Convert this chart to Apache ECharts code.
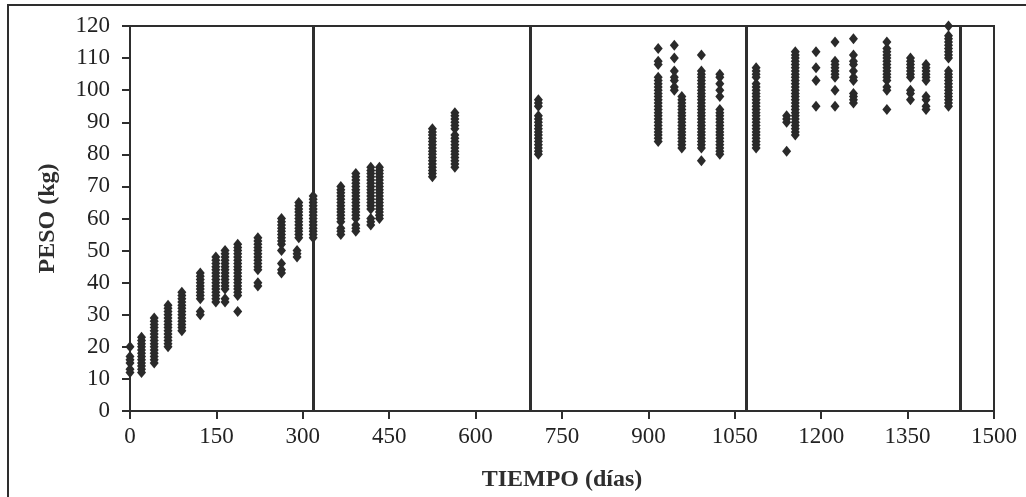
<!DOCTYPE html>
<html>
<head>
<meta charset="utf-8">
<script src="https://cdn.jsdelivr.net/npm/echarts@6/dist/echarts.min.js"></script>
<style>
html,body{margin:0;padding:0;background:#fff;}
#chart{width:1026px;height:497px;}
</style>
</head>
<body>
<div id="chart"></div>
<script>
// Sampling days (x) for each vertical column of observations
const colDays = [0, 20, 42, 66, 90, 122, 149, 165, 187, 222, 263, 290, 293, 318, 366, 392, 418, 433, 525, 564, 709, 917, 945, 958, 992, 1024, 1087, 1140, 1155, 1191, 1224, 1256, 1314, 1355, 1382, 1421];
// Weights (kg) observed in each column
const colWeights = [
  [20, 17, 16, 15, 13, 12],
  [23, 22, 21, 20, 19, 18, 17, 16, 15, 14, 13, 12],
  [29, 28, 27, 26, 25, 24, 23, 22, 21, 20, 19, 18, 17, 16, 15],
  [33, 32, 31, 30, 29, 28, 27, 26, 25, 24, 23, 22, 21, 20],
  [37, 36, 35, 34, 33, 32, 31, 30, 29, 28, 27, 26, 25],
  [43, 42, 41, 40, 39, 38, 37, 36, 35, 31, 30],
  [48, 47, 46, 45, 44, 43, 42, 41, 40, 39, 38, 37, 36, 35, 34],
  [50, 49, 48, 47, 46, 45, 44, 43, 42, 41, 40, 39, 38, 35, 34],
  [52, 51, 50, 49, 48, 47, 46, 45, 44, 43, 42, 41, 40, 39, 38, 37, 36, 31],
  [54, 53, 52, 51, 50, 49, 48, 47, 46, 45, 44, 40, 39],
  [60, 59, 58, 57, 56, 55, 54, 53, 52, 50, 46, 44, 43],
  [50, 49, 48],
  [65, 64, 63, 62, 61, 60, 59, 58, 57, 56, 55, 54],
  [67, 66, 65, 64, 63, 62, 61, 60, 59, 58, 57, 56, 55, 54],
  [70, 69, 68, 67, 66, 65, 64, 63, 62, 61, 60, 59, 57, 56, 55],
  [74, 73, 72, 71, 70, 69, 68, 67, 66, 65, 64, 63, 62, 61, 60, 58, 57, 56],
  [76, 75, 74, 73, 72, 71, 70, 69, 68, 67, 66, 65, 64, 63, 60, 59, 58],
  [76, 75, 74, 73, 72, 71, 70, 69, 68, 67, 66, 65, 64, 63, 62, 61, 60],
  [88, 87, 86, 85, 84, 83, 82, 81, 80, 79, 78, 77, 76, 75, 74, 73],
  [93, 92, 91, 90, 89, 88, 86, 85, 84, 83, 82, 81, 80, 79, 78, 77, 76],
  [97, 96, 95, 92, 91, 90, 89, 88, 87, 86, 85, 84, 83, 82, 81, 80],
  [113, 109, 108, 104, 103, 102, 101, 100, 99, 98, 97, 96, 95, 94, 93, 92, 91, 90, 89, 88, 87, 86, 85, 84],
  [114, 110, 106, 104, 103, 101, 100],
  [98, 97, 96, 95, 94, 93, 92, 91, 90, 89, 88, 87, 86, 85, 84, 83, 82],
  [111, 106, 105, 104, 103, 102, 101, 100, 99, 98, 97, 96, 95, 94, 93, 92, 91, 90, 89, 88, 87, 86, 85, 84, 83, 82, 78],
  [105, 104, 102, 100, 98, 94, 93, 92, 91, 90, 89, 88, 87, 86, 85, 84, 83, 82, 81, 80],
  [107, 106, 105, 104, 102, 101, 100, 99, 98, 97, 96, 95, 94, 93, 92, 91, 90, 89, 88, 87, 86, 85, 84, 83, 82],
  [92, 91, 90, 81],
  [112, 111, 110, 109, 108, 107, 106, 105, 104, 103, 102, 101, 100, 99, 98, 97, 96, 95, 94, 93, 92, 91, 90, 89, 88, 87, 86],
  [112, 107, 103, 95],
  [115, 109, 108, 107, 106, 105, 104, 100, 95],
  [116, 111, 109, 108, 106, 104, 103, 99, 98, 97, 96],
  [115, 113, 112, 111, 110, 109, 108, 107, 106, 105, 104, 103, 101, 100, 94],
  [110, 109, 108, 107, 106, 105, 104, 100, 99, 97],
  [108, 107, 106, 105, 104, 103, 98, 97, 95, 94],
  [120, 117, 116, 115, 114, 113, 112, 111, 110, 106, 105, 104, 103, 102, 101, 100, 99, 98, 97, 96, 95]
];
// Vertical period dividers (days)
const dividers = [318, 695, 1070, 1442];
const xTitle = 'TIEMPO (días)';
const yTitle = 'PESO (kg)';

const points = [];
colDays.forEach((d, i) => colWeights[i].forEach(w => points.push([d, w])));

const ink = '#2e2e2e';
const font = 'Liberation Serif, Times New Roman, serif';

const chart = echarts.init(document.getElementById('chart'), null, {renderer: 'canvas'});
chart.setOption({
  backgroundColor: '#fff',
  animation: false,
  graphic: [{
    type: 'rect', silent: true,
    shape: {x: 8, y: 5, width: 1100, height: 600},
    style: {fill: 'none', stroke: ink, lineWidth: 2}
  }],
  grid: {left: 130, right: 32, top: 26, bottom: 85, show: true, borderColor: ink, borderWidth: 2, backgroundColor: 'transparent'},
  xAxis: {
    type: 'value', min: 0, max: 1500, interval: 150,
    name: xTitle, nameLocation: 'middle', nameGap: 57,
    nameTextStyle: {fontFamily: font, fontWeight: 'bold', fontSize: 24, color: ink},
    axisLine: {show: true, lineStyle: {color: ink, width: 2}},
    axisTick: {show: true, inside: false, length: 8, lineStyle: {color: ink, width: 2}},
    axisLabel: {fontFamily: font, fontSize: 23, color: '#222', margin: 14, formatter: v => String(v)},
    splitLine: {show: false}
  },
  yAxis: {
    type: 'value', min: 0, max: 120, interval: 10,
    name: yTitle, nameLocation: 'middle', nameGap: 70, nameRotate: 90,
    nameTextStyle: {fontFamily: font, fontWeight: 'bold', fontSize: 24, color: ink},
    axisLine: {show: true, lineStyle: {color: ink, width: 2}},
    axisTick: {show: true, inside: false, length: 8, lineStyle: {color: ink, width: 2}},
    axisLabel: {fontFamily: font, fontSize: 23, color: '#222', margin: 20, formatter: v => String(v)},
    splitLine: {show: false}
  },
  series: [{
    type: 'scatter',
    data: points,
    symbol: 'diamond',
    symbolSize: [9, 11],
    clip: false,
    itemStyle: {color: '#2a2a2a', opacity: 1},
    markLine: {
      silent: true, symbol: 'none', animation: false,
      label: {show: false},
      lineStyle: {color: ink, width: 3, type: 'solid'},
      data: dividers.map(d => ({xAxis: d}))
    }
  }]
});
</script>
</body>
</html>
